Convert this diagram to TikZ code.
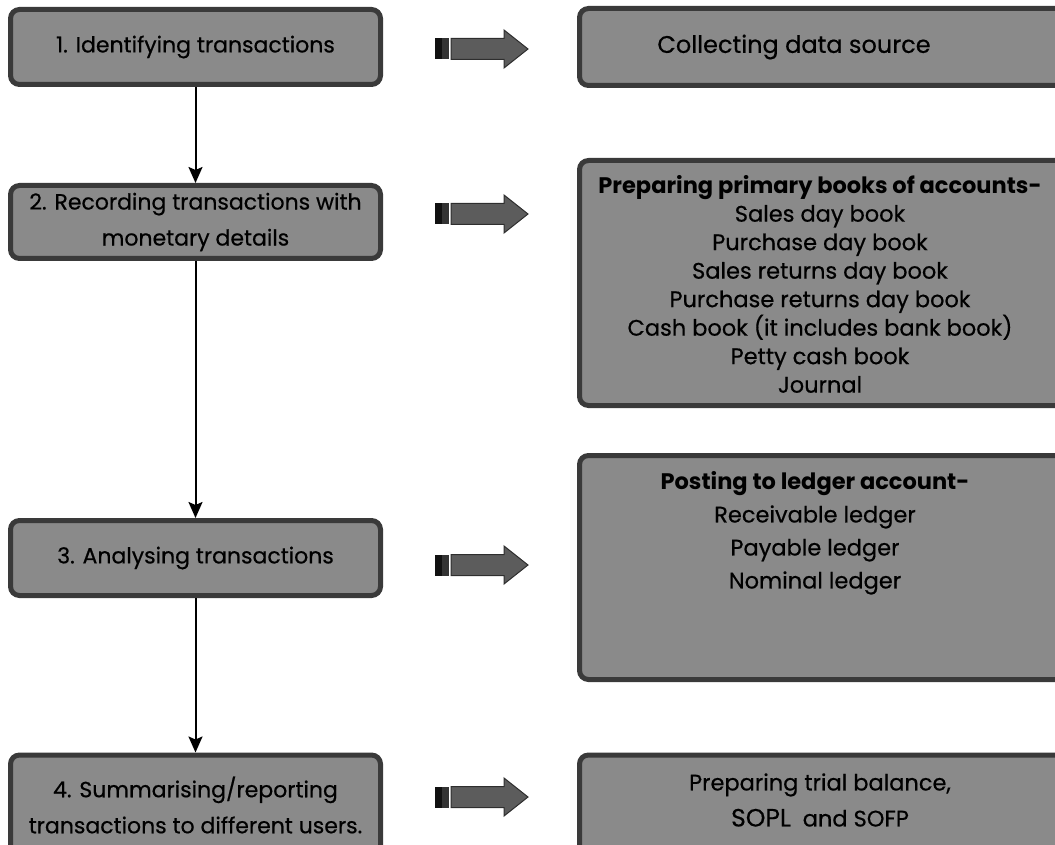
\documentclass[tikz,border=0pt]{standalone}
\usepackage{fontspec}
\setmainfont{Poppins}[UprightFeatures={FakeBold=0.5}]
\usetikzlibrary{arrows.meta}

\definecolor{boxfill}{HTML}{8A8A8A}
\definecolor{boxline}{HTML}{3A3A3A}
\definecolor{arrowfill}{HTML}{5C5C5C}
\definecolor{arrowline}{HTML}{2E2E2E}
\definecolor{barblack}{HTML}{111111}
\definecolor{bargrey}{HTML}{333333}

\tikzset{
  % rounded grey panel
  panel/.style={draw=boxline, fill=boxfill, line width=5pt, rounded corners=9pt,
    inner sep=0pt},
  stage/.style={panel, align=center, text=black,
    font=\fontsize{22}{36}\selectfont},
  paneltext/.style={align=center, text=black, inner sep=0pt,
    font=\fontsize{22.5}{28.5}\selectfont},
  flow/.style={line width=2pt, draw=black,
    -{Stealth[length=16pt, width=14pt, inset=3pt]}},
  % striped block arrow pointing right
  fatarrow/.pic={
    \fill[barblack] (0,-10.5) rectangle (7,10.5);
    \fill[bargrey] (7,-10.5) rectangle (13.5,10.5);
    \draw[draw=arrowline, fill=arrowfill, line width=1pt, line join=miter]
      (16,-10.5) -- (69,-10.5) -- (69,-19) -- (93,0) -- (69,19)
      -- (69,10.5) -- (16,10.5) -- cycle;
  }
}

\begin{document}
\begin{tikzpicture}[x=1pt, y=-1pt]
\useasboundingbox (0,0) rectangle (1055,845);
\clip (0,0) rectangle (1055,845);

% left column: the four stages
\node[stage, minimum width=370pt, minimum height=75pt] (s1) at (195.5,47)
  {1. Identifying transactions};
\node[stage, minimum width=370pt, minimum height=73pt] (s2) at (195.5,222)
  {2. Recording transactions with\\monetary details};
\node[stage, minimum width=370pt, minimum height=75pt] (s3) at (195.5,558)
  {3. Analysing transactions};
\node[stage, minimum width=370pt, minimum height=100pt] (s4) at (195.5,805)
  {4. Summarising/reporting\\transactions to different users.};

% right column panels
\node[panel, minimum width=493pt, minimum height=77pt] (p1) at (826,47) {};
\node[panel, minimum width=493pt, minimum height=245pt] (p2) at (826,283) {};
\node[panel, minimum width=493pt, minimum height=224pt] (p3) at (826,567.5) {};
\node[panel, minimum width=493pt, minimum height=100pt] (p4) at (826,805) {};

\node[paneltext, font=\fontsize{24}{28.5}\selectfont] (t1) at (794,47)
  {Collecting data source};
\node[paneltext] (t2) at (820,284)
  {\textbf{Preparing primary books of accounts-}\\
   Sales day book\\
   Purchase day book\\
   Sales returns day book\\
   Purchase returns day book\\
   Cash book (it includes bank book)\\
   Petty cash book\\
   Journal};
\node[paneltext, font=\fontsize{22.5}{33}\selectfont] (t3) at (815,533)
  {\textbf{Posting to ledger account-}\\
   Receivable ledger\\
   Payable ledger\\
   Nominal ledger};
\node[paneltext, font=\fontsize{22.5}{36}\selectfont] (t4) at (820,800)
  {Preparing trial balance,\\
   {\fontsize{25}{36}\selectfont SOPL}\ \ and SOFP};

% block arrows between the columns
\pic (b1) at (435,49) {fatarrow};
\pic (b2) at (435,214) {fatarrow};
\pic (b3) at (435,565) {fatarrow};
\pic (b4) at (435,797) {fatarrow};

% sequence of stages
\draw[flow] (s1.south) -- (s2.north);
\draw[flow] (s2.south) -- (s3.north);
\draw[flow] (s3.south) -- (s4.north);
\end{tikzpicture}
\end{document}
